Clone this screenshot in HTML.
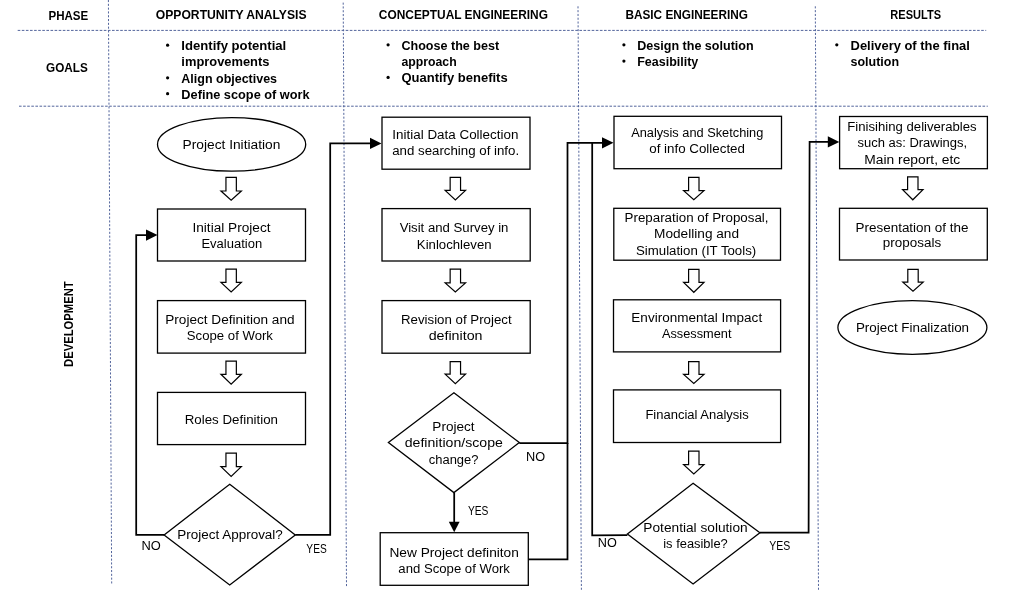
<!DOCTYPE html>
<html><head><meta charset="utf-8"><style>
html,body{margin:0;padding:0;background:#fff;width:1017px;height:604px;overflow:hidden}
svg{display:block;will-change:transform}
text{font-family:"Liberation Sans",sans-serif;fill:#000;text-anchor:middle}
</style></head><body>
<svg width="1017" height="604" viewBox="0 0 1017 604">
<line x1="17.7" y1="30.4" x2="986.2" y2="30.4" stroke="#53659c" stroke-width="1" stroke-dasharray="2.6 1.5"/>
<line x1="19" y1="106.2" x2="987.8" y2="106.2" stroke="#53659c" stroke-width="1" stroke-dasharray="2.6 1.5"/>
<line x1="108.4" y1="0" x2="111.7" y2="584.5" stroke="#53659c" stroke-width="1" stroke-dasharray="2.1 1.7"/>
<line x1="343.2" y1="2.6" x2="346.5" y2="586.6" stroke="#53659c" stroke-width="1" stroke-dasharray="2.1 1.7"/>
<line x1="578.0" y1="6.3" x2="581.4" y2="590.3" stroke="#53659c" stroke-width="1" stroke-dasharray="2.1 1.7"/>
<line x1="815.3" y1="6.3" x2="818.5" y2="590.3" stroke="#53659c" stroke-width="1" stroke-dasharray="2.1 1.7"/>
<text x="68.35" y="19.70" font-size="12.5" font-weight="700" textLength="39.80" lengthAdjust="spacingAndGlyphs">PHASE</text>
<text x="231.15" y="19.00" font-size="12.5" font-weight="700" textLength="150.80" lengthAdjust="spacingAndGlyphs">OPPORTUNITY ANALYSIS</text>
<text x="463.40" y="19.20" font-size="12.5" font-weight="700" textLength="169.10" lengthAdjust="spacingAndGlyphs">CONCEPTUAL ENGINEERING</text>
<text x="686.70" y="18.70" font-size="12.5" font-weight="700" textLength="122.50" lengthAdjust="spacingAndGlyphs">BASIC ENGINEERING</text>
<text x="915.70" y="18.70" font-size="12.5" font-weight="700" textLength="50.70" lengthAdjust="spacingAndGlyphs">RESULTS</text>
<text x="66.90" y="71.60" font-size="12.5" font-weight="700" textLength="41.70" lengthAdjust="spacingAndGlyphs">GOALS</text>
<text x="0" text-anchor="middle" y="0" font-size="12.5" font-weight="700" textLength="85.60" lengthAdjust="spacingAndGlyphs" transform="translate(73.2,324.15) rotate(-90)">DEVELOPMENT</text>
<circle cx="167.60" cy="45.20" r="1.6" fill="#000"/>
<text x="233.80" y="50.10" font-size="12.5" font-weight="700" textLength="104.90" lengthAdjust="spacingAndGlyphs">Identify potential</text>
<text x="225.40" y="66.00" font-size="12.5" font-weight="700" textLength="88.10" lengthAdjust="spacingAndGlyphs">improvements</text>
<circle cx="167.60" cy="77.80" r="1.6" fill="#000"/>
<text x="229.20" y="82.70" font-size="12.5" font-weight="700" textLength="95.70" lengthAdjust="spacingAndGlyphs">Align objectives</text>
<circle cx="167.60" cy="93.70" r="1.6" fill="#000"/>
<text x="245.50" y="98.60" font-size="12.5" font-weight="700" textLength="128.30" lengthAdjust="spacingAndGlyphs">Define scope of work</text>
<circle cx="388.10" cy="44.80" r="1.6" fill="#000"/>
<text x="450.30" y="49.70" font-size="12.5" font-weight="700" textLength="97.70" lengthAdjust="spacingAndGlyphs">Choose the best</text>
<text x="429.05" y="66.10" font-size="12.5" font-weight="700" textLength="55.20" lengthAdjust="spacingAndGlyphs">approach</text>
<circle cx="388.10" cy="77.40" r="1.6" fill="#000"/>
<text x="454.55" y="82.30" font-size="12.5" font-weight="700" textLength="106.20" lengthAdjust="spacingAndGlyphs">Quantify benefits</text>
<circle cx="623.90" cy="44.80" r="1.6" fill="#000"/>
<text x="695.45" y="49.70" font-size="12.5" font-weight="700" textLength="116.40" lengthAdjust="spacingAndGlyphs">Design the solution</text>
<circle cx="623.90" cy="61.10" r="1.6" fill="#000"/>
<text x="667.75" y="66.00" font-size="12.5" font-weight="700" textLength="61.00" lengthAdjust="spacingAndGlyphs">Feasibility</text>
<circle cx="836.80" cy="44.80" r="1.6" fill="#000"/>
<text x="910.20" y="49.70" font-size="12.5" font-weight="700" textLength="119.30" lengthAdjust="spacingAndGlyphs">Delivery of the final</text>
<text x="874.80" y="66.00" font-size="12.5" font-weight="700" textLength="48.50" lengthAdjust="spacingAndGlyphs">solution</text>
<path d="M164.10,534.90 L136.20,534.90 L136.20,235.10 L147.00,235.10" fill="none" stroke="#000" stroke-width="1.75" stroke-linejoin="miter"/>
<path d="M157.50,235.10 L146.00,229.50 L146.00,240.70 Z" fill="#000"/>
<path d="M295.30,534.90 L330.20,534.90 L330.20,143.40 L371.00,143.40" fill="none" stroke="#000" stroke-width="1.75" stroke-linejoin="miter"/>
<path d="M381.50,143.40 L370.00,137.80 L370.00,149.00 Z" fill="#000"/>
<path d="M519.30,443.10 L567.50,443.10 L567.50,142.80 L603.00,142.80" fill="none" stroke="#000" stroke-width="1.75" stroke-linejoin="miter"/>
<path d="M528.30,559.30 L567.50,559.30 L567.50,443.10" fill="none" stroke="#000" stroke-width="1.75" stroke-linejoin="miter"/>
<path d="M613.50,142.80 L602.00,137.20 L602.00,148.40 Z" fill="#000"/>
<path d="M454.20,492.60 L454.20,522.50" fill="none" stroke="#000" stroke-width="1.75" stroke-linejoin="miter"/>
<path d="M454.20,532.30 L448.80,521.80 L459.60,521.80 Z" fill="#000"/>
<path d="M627.40,535.20 L592.20,535.40 L592.20,142.80" fill="none" stroke="#000" stroke-width="1.75" stroke-linejoin="miter"/>
<path d="M759.90,532.70 L808.60,532.70 L809.60,141.90 L828.00,141.90" fill="none" stroke="#000" stroke-width="1.75" stroke-linejoin="miter"/>
<path d="M839.30,141.90 L827.80,136.30 L827.80,147.50 Z" fill="#000"/>
<ellipse cx="231.6" cy="144.4" rx="74.1" ry="26.8" fill="#fff" stroke="#000" stroke-width="1.3"/>
<text x="231.45" y="149.20" font-size="12.5" textLength="97.80" lengthAdjust="spacingAndGlyphs">Project Initiation</text>
<path d="M225.95,177.30 L236.35,177.30 L236.35,191.00 L241.35,191.00 L231.15,200.20 L220.95,191.00 L225.95,191.00 Z" fill="#fff" stroke="#000" stroke-width="1.2" stroke-linejoin="miter"/>
<rect x="157.50" y="209.00" width="148.00" height="52.00" fill="#fff" stroke="#000" stroke-width="1.3"/>
<text x="231.50" y="231.80" font-size="12.5" textLength="78.10" lengthAdjust="spacingAndGlyphs">Initial Project</text>
<text x="231.80" y="247.70" font-size="12.5" textLength="60.70" lengthAdjust="spacingAndGlyphs">Evaluation</text>
<path d="M225.95,269.10 L236.35,269.10 L236.35,282.40 L241.35,282.40 L231.15,292.00 L220.95,282.40 L225.95,282.40 Z" fill="#fff" stroke="#000" stroke-width="1.2" stroke-linejoin="miter"/>
<rect x="157.50" y="300.60" width="148.00" height="52.50" fill="#fff" stroke="#000" stroke-width="1.3"/>
<text x="229.90" y="323.70" font-size="12.5" textLength="129.30" lengthAdjust="spacingAndGlyphs">Project Definition and</text>
<text x="229.90" y="340.30" font-size="12.5" textLength="86.10" lengthAdjust="spacingAndGlyphs">Scope of Work</text>
<path d="M225.95,361.10 L236.35,361.10 L236.35,374.30 L241.35,374.30 L231.15,384.10 L220.95,374.30 L225.95,374.30 Z" fill="#fff" stroke="#000" stroke-width="1.2" stroke-linejoin="miter"/>
<rect x="157.50" y="392.40" width="148.00" height="52.20" fill="#fff" stroke="#000" stroke-width="1.3"/>
<text x="231.35" y="423.80" font-size="12.5" textLength="93.20" lengthAdjust="spacingAndGlyphs">Roles Definition</text>
<path d="M225.95,453.20 L236.35,453.20 L236.35,466.60 L241.35,466.60 L231.15,476.40 L220.95,466.60 L225.95,466.60 Z" fill="#fff" stroke="#000" stroke-width="1.2" stroke-linejoin="miter"/>
<path d="M229.70,484.20 L295.30,534.90 L229.70,584.90 L164.10,534.90 Z" fill="#fff" stroke="#000" stroke-width="1.3"/>
<text x="230.05" y="539.40" font-size="12.5" textLength="105.60" lengthAdjust="spacingAndGlyphs">Project Approval?</text>
<text x="151.10" y="549.60" font-size="12.5" textLength="19.30" lengthAdjust="spacingAndGlyphs">NO</text>
<text x="316.55" y="553.00" font-size="12.5" textLength="20.40" lengthAdjust="spacingAndGlyphs">YES</text>
<rect x="382.00" y="117.20" width="148.00" height="52.00" fill="#fff" stroke="#000" stroke-width="1.3"/>
<text x="455.35" y="139.20" font-size="12.5" textLength="126.00" lengthAdjust="spacingAndGlyphs">Initial Data Collection</text>
<text x="455.65" y="155.30" font-size="12.5" textLength="127.00" lengthAdjust="spacingAndGlyphs">and searching of info.</text>
<path d="M450.15,177.40 L460.55,177.40 L460.55,190.40 L465.55,190.40 L455.35,200.00 L445.15,190.40 L450.15,190.40 Z" fill="#fff" stroke="#000" stroke-width="1.2" stroke-linejoin="miter"/>
<rect x="382.00" y="208.60" width="148.20" height="52.40" fill="#fff" stroke="#000" stroke-width="1.3"/>
<text x="454.05" y="232.30" font-size="12.5" textLength="108.80" lengthAdjust="spacingAndGlyphs">Visit and Survey in</text>
<text x="454.25" y="248.70" font-size="12.5" textLength="74.80" lengthAdjust="spacingAndGlyphs">Kinlochleven</text>
<path d="M450.15,269.20 L460.55,269.20 L460.55,282.90 L465.55,282.90 L455.35,292.00 L445.15,282.90 L450.15,282.90 Z" fill="#fff" stroke="#000" stroke-width="1.2" stroke-linejoin="miter"/>
<rect x="382.00" y="300.60" width="148.20" height="52.60" fill="#fff" stroke="#000" stroke-width="1.3"/>
<text x="456.30" y="324.00" font-size="12.5" textLength="110.70" lengthAdjust="spacingAndGlyphs">Revision of Project</text>
<text x="455.60" y="340.10" font-size="12.5" textLength="53.90" lengthAdjust="spacingAndGlyphs">definiton</text>
<path d="M450.15,361.60 L460.55,361.60 L460.55,374.20 L465.55,374.20 L455.35,383.80 L445.15,374.20 L450.15,374.20 Z" fill="#fff" stroke="#000" stroke-width="1.2" stroke-linejoin="miter"/>
<path d="M453.90,392.70 L519.30,442.60 L453.90,492.60 L388.40,442.60 Z" fill="#fff" stroke="#000" stroke-width="1.3"/>
<text x="453.45" y="431.30" font-size="12.5" textLength="42.20" lengthAdjust="spacingAndGlyphs">Project</text>
<text x="453.80" y="447.40" font-size="12.5" textLength="98.10" lengthAdjust="spacingAndGlyphs">definition/scope</text>
<text x="453.60" y="463.80" font-size="12.5" textLength="49.70" lengthAdjust="spacingAndGlyphs">change?</text>
<text x="478.20" y="515.40" font-size="12.5" textLength="20.50" lengthAdjust="spacingAndGlyphs">YES</text>
<text x="535.60" y="460.90" font-size="12.5" textLength="19.10" lengthAdjust="spacingAndGlyphs">NO</text>
<rect x="380.20" y="532.70" width="148.10" height="52.60" fill="#fff" stroke="#000" stroke-width="1.3"/>
<text x="454.15" y="556.50" font-size="12.5" textLength="129.40" lengthAdjust="spacingAndGlyphs">New Project definiton</text>
<text x="454.15" y="572.70" font-size="12.5" textLength="111.60" lengthAdjust="spacingAndGlyphs">and Scope of Work</text>
<rect x="614.00" y="116.30" width="167.50" height="52.40" fill="#fff" stroke="#000" stroke-width="1.3"/>
<text x="697.25" y="137.20" font-size="12.5" textLength="132.20" lengthAdjust="spacingAndGlyphs">Analysis and Sketching</text>
<text x="697.10" y="153.00" font-size="12.5" textLength="95.70" lengthAdjust="spacingAndGlyphs">of info Collected</text>
<path d="M688.60,177.40 L699.00,177.40 L699.00,190.70 L704.00,190.70 L693.80,199.80 L683.60,190.70 L688.60,190.70 Z" fill="#fff" stroke="#000" stroke-width="1.2" stroke-linejoin="miter"/>
<rect x="613.80" y="208.30" width="166.70" height="51.90" fill="#fff" stroke="#000" stroke-width="1.3"/>
<text x="696.55" y="222.10" font-size="12.5" textLength="144.00" lengthAdjust="spacingAndGlyphs">Preparation of Proposal,</text>
<text x="696.55" y="238.20" font-size="12.5" textLength="85.00" lengthAdjust="spacingAndGlyphs">Modelling and</text>
<text x="696.10" y="254.50" font-size="12.5" textLength="120.30" lengthAdjust="spacingAndGlyphs">Simulation (IT Tools)</text>
<path d="M688.60,269.30 L699.00,269.30 L699.00,282.40 L704.00,282.40 L693.80,292.30 L683.60,282.40 L688.60,282.40 Z" fill="#fff" stroke="#000" stroke-width="1.2" stroke-linejoin="miter"/>
<rect x="613.50" y="299.80" width="167.10" height="52.10" fill="#fff" stroke="#000" stroke-width="1.3"/>
<text x="696.75" y="321.50" font-size="12.5" textLength="130.80" lengthAdjust="spacingAndGlyphs">Environmental Impact</text>
<text x="696.75" y="337.80" font-size="12.5" textLength="69.60" lengthAdjust="spacingAndGlyphs">Assessment</text>
<path d="M688.60,361.70 L699.00,361.70 L699.00,374.40 L704.00,374.40 L693.80,383.40 L683.60,374.40 L688.60,374.40 Z" fill="#fff" stroke="#000" stroke-width="1.2" stroke-linejoin="miter"/>
<rect x="613.50" y="389.90" width="167.10" height="52.60" fill="#fff" stroke="#000" stroke-width="1.3"/>
<text x="697.05" y="418.60" font-size="12.5" textLength="103.20" lengthAdjust="spacingAndGlyphs">Financial Analysis</text>
<path d="M688.60,451.10 L699.00,451.10 L699.00,464.60 L704.00,464.60 L693.80,473.90 L683.60,464.60 L688.60,464.60 Z" fill="#fff" stroke="#000" stroke-width="1.2" stroke-linejoin="miter"/>
<path d="M693.10,483.20 L759.90,532.70 L693.10,583.90 L627.40,534.10 Z" fill="#fff" stroke="#000" stroke-width="1.3"/>
<text x="695.50" y="532.20" font-size="12.5" textLength="104.30" lengthAdjust="spacingAndGlyphs">Potential solution</text>
<text x="695.50" y="548.10" font-size="12.5" textLength="64.50" lengthAdjust="spacingAndGlyphs">is feasible?</text>
<text x="607.25" y="547.30" font-size="12.5" textLength="19.00" lengthAdjust="spacingAndGlyphs">NO</text>
<text x="779.75" y="550.00" font-size="12.5" textLength="21.00" lengthAdjust="spacingAndGlyphs">YES</text>
<rect x="839.60" y="116.50" width="147.80" height="52.20" fill="#fff" stroke="#000" stroke-width="1.3"/>
<text x="912.00" y="131.00" font-size="12.5" textLength="129.30" lengthAdjust="spacingAndGlyphs">Finisihing deliverables</text>
<text x="912.30" y="147.30" font-size="12.5" textLength="109.70" lengthAdjust="spacingAndGlyphs">such as: Drawings,</text>
<text x="912.30" y="163.70" font-size="12.5" textLength="95.90" lengthAdjust="spacingAndGlyphs">Main report, etc</text>
<path d="M907.60,176.90 L918.00,176.90 L918.00,189.70 L923.00,189.70 L912.80,199.80 L902.60,189.70 L907.60,189.70 Z" fill="#fff" stroke="#000" stroke-width="1.2" stroke-linejoin="miter"/>
<rect x="839.50" y="208.30" width="147.80" height="51.70" fill="#fff" stroke="#000" stroke-width="1.3"/>
<text x="912.00" y="232.00" font-size="12.5" textLength="112.90" lengthAdjust="spacingAndGlyphs">Presentation of the</text>
<text x="912.00" y="247.00" font-size="12.5" textLength="58.30" lengthAdjust="spacingAndGlyphs">proposals</text>
<path d="M907.80,269.30 L918.20,269.30 L918.20,282.20 L923.20,282.20 L913.00,291.30 L902.80,282.20 L907.80,282.20 Z" fill="#fff" stroke="#000" stroke-width="1.2" stroke-linejoin="miter"/>
<ellipse cx="912.4" cy="327.5" rx="74.5" ry="26.8" fill="#fff" stroke="#000" stroke-width="1.3"/>
<text x="912.50" y="332.00" font-size="12.5" textLength="113.10" lengthAdjust="spacingAndGlyphs">Project Finalization</text>
</svg>
</body></html>
